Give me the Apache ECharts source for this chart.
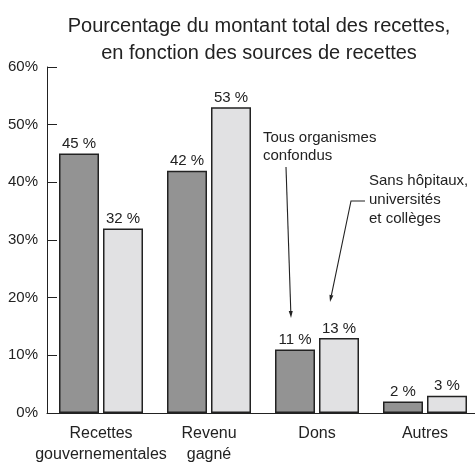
<!DOCTYPE html>
<html lang="fr">
<head>
    <meta charset="UTF-8">
    <title>Recettes</title>
    <script src="https://cdn.jsdelivr.net/npm/echarts@6/dist/echarts.min.js"></script>
</head>
<body style="margin:0">
    <div id="main" style="width:475px;height:462px;"></div>

<script>
var categories = ['Recettes\ngouvernementales', 'Revenu\ngagné', 'Dons', 'Autres'];
var tousOrganismes = [45, 42, 11, 2];
var sansHopitaux = [32, 53, 13, 3];
var yTicks = [0, 10, 20, 30, 40, 50, 60];

var font = 'Liberation Sans, Arial, sans-serif';

// petite flèche : ligne brisée + pointe
function arrow(points) {
    var n = points.length;
    var tip = points[n - 1], prev = points[n - 2];
    var dx = tip[0] - prev[0], dy = tip[1] - prev[1];
    var len = Math.sqrt(dx * dx + dy * dy);
    dx /= len; dy /= len;
    var bx = tip[0] - dx * 7, by = tip[1] - dy * 7;
    return [
        {
            type: 'polyline',
            shape: { points: points.slice(0, n - 1).concat([[bx, by]]) },
            style: { stroke: '#222', lineWidth: 1.1, fill: null }
        },
        {
            type: 'polygon',
            shape: { points: [tip, [bx - dy * 2, by + dx * 2], [bx + dy * 2, by - dx * 2]] },
            style: { fill: '#222' }
        }
    ];
}

var myChart = echarts.init(document.getElementById('main'));

myChart.setOption({
    animation: false,
    backgroundColor: '#fff',
    textStyle: { fontFamily: font },
    title: {
        text: 'Pourcentage du montant total des recettes,\nen fonction des sources de recettes',
        left: 254,
        top: 8,
        textAlign: 'center',
        textStyle: { fontFamily: font, fontSize: 20, fontWeight: 'normal', color: '#222', lineHeight: 27 }
    },
    grid: { left: 47, top: 67, width: 432, height: 346, outerBoundsMode: 'none' },
    xAxis: {
        type: 'category',
        data: categories,
        axisLine: { lineStyle: { color: '#222', width: 1 } },
        axisTick: { show: false },
        axisLabel: { color: '#222', fontSize: 16, lineHeight: 21, margin: 10, interval: 0 }
    },
    yAxis: {
        type: 'value',
        min: yTicks[0],
        max: yTicks[yTicks.length - 1],
        interval: 10,
        axisLine: { show: true, lineStyle: { color: '#222', width: 1 } },
        axisTick: { show: true, inside: true, length: 10, lineStyle: { color: '#222' } },
        splitLine: { show: false },
        axisLabel: { color: '#222', fontSize: 15, margin: 9, formatter: '{value}%' }
    },
    series: [
        {
            name: 'Tous organismes confondus',
            type: 'bar',
            data: tousOrganismes,
            barWidth: 40,
            barGap: '10%',
            itemStyle: { color: '#939393', borderColor: '#222', borderWidth: 1.5 },
            label: { show: true, position: 'top', distance: 2, formatter: '{c} %', color: '#222', fontSize: 15 }
        },
        {
            name: 'Sans hôpitaux, universités et collèges',
            type: 'bar',
            data: sansHopitaux,
            barWidth: 40,
            itemStyle: { color: '#e1e1e3', borderColor: '#222', borderWidth: 1.5 },
            label: { show: true, position: 'top', distance: 2, formatter: '{c} %', color: '#222', fontSize: 15 }
        }
    ],
    graphic: [
        {
            type: 'text', left: 263, top: 129,
            style: { text: 'Tous organismes\nconfondus', font: '15px ' + font, fill: '#222', lineHeight: 18 }
        },
        {
            type: 'text', left: 369, top: 171,
            style: { text: 'Sans hôpitaux,\nuniversités\net collèges', font: '15px ' + font, fill: '#222', lineHeight: 19 }
        }
    ].concat(arrow([[286, 167], [291, 318]]))
     .concat(arrow([[365, 201], [351, 201], [330, 302]]))
});
</script>
</body>
</html>
